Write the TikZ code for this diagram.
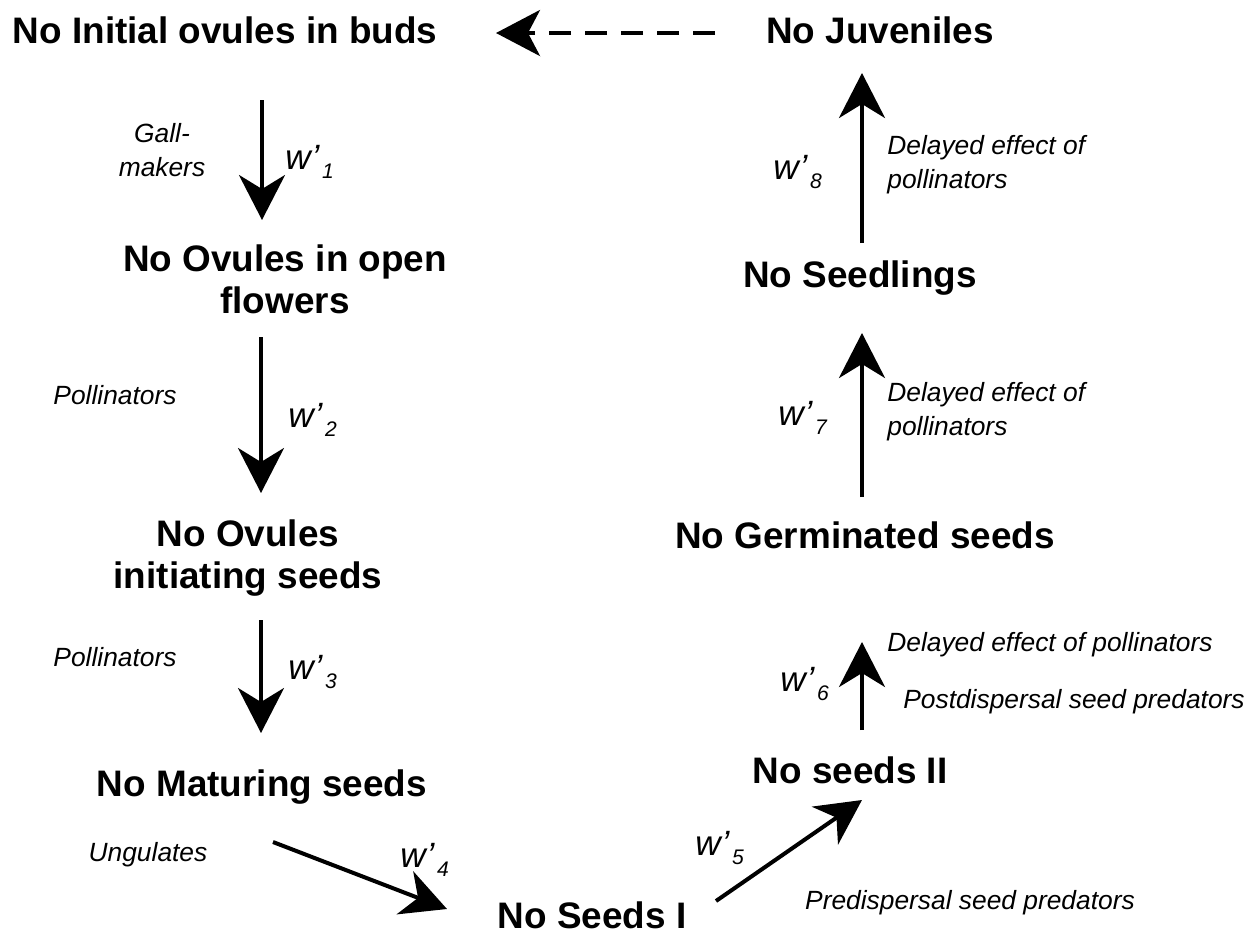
\documentclass[tikz,border=0pt]{standalone}
\usepackage{fontspec}
\setmainfont{Liberation Sans}
\usetikzlibrary{arrows.meta,calc}
\newcommand{\wsub}[1]{w\kern0.5pt’\kern1.5pt\raisebox{-5pt}{\fontsize{12}{12}\selectfont #1}}
\begin{document}
\begin{tikzpicture}[x=0.02cm,y=-0.02cm,
    stage/.style={font=\fontsize{21}{24}\selectfont\bfseries, align=center, inner sep=0pt},
    agent/.style={font=\fontsize{15}{19.5}\selectfont\itshape, inner sep=0pt},
    wlab/.style={font=\fontsize{20}{22}\selectfont\itshape, anchor=west, inner sep=0pt},
    flow/.style={line width=0.08cm, -{Stealth[length=0.9cm,width=0.92cm,inset=0.28cm]}},
    back/.style={line width=0.08cm, dash pattern=on 0.44cm off 0.28cm, -{Stealth[length=0.88cm,width=0.92cm,inset=0.24cm]}}]
  \useasboundingbox (0,0) rectangle (1249,938);

  % stages of the cycle
  \node[stage] (buds) at (225,30) {No Initial ovules in buds};
  \node[stage] (open) at (285,279) {No Ovules in open\\flowers};
  \node[stage] (init) at (248,558) {No Ovules\\initiating seeds};
  \node[stage] (mat) at (262,787) {No Maturing seeds};
  \node[stage] (s1) at (592,915) {No Seeds I};
  \node[stage] (s2) at (850,770) {No seeds II};
  \node[stage] (germ) at (865,535) {No Germinated seeds};
  \node[stage] (seedl) at (860,278) {No Seedlings};
  \node[stage] (juv) at (880,30) {No Juveniles};

  % transitions
  \draw[flow] ($(buds)+(37,70)$) -- ($(open)+(-23,-59)$);
  \draw[flow] ($(open)+(-24,58)$) -- ($(init)+(13,-65)$);
  \draw[flow] ($(init)+(13,62)$) -- ($(mat)+(-1,-54)$);
  \draw[flow] ($(mat)+(11,55)$) -- ($(s1)+(-145,-6)$);
  \draw[flow] ($(s1)+(124,-14)$) -- ($(s2)+(12,30)$);
  \draw[flow] ($(s2)+(12,-40)$) -- ($(germ)+(-3,107)$);
  \draw[flow] ($(germ)+(-3,-38)$) -- ($(seedl)+(2,55)$);
  \draw[flow] ($(seedl)+(2,-35)$) -- ($(juv)+(-18,43)$);
  \draw[back] ($(juv)+(-165,3)$) -- ($(buds)+(271,3)$);

  % weights
  \node[wlab] (w1) at (285,162) {\wsub{1}};
  \node[wlab] (w2) at (288,420) {\wsub{2}};
  \node[wlab] (w3) at (288,672) {\wsub{3}};
  \node[wlab] (w4) at (400,860) {\wsub{4}};
  \node[wlab] (w5) at (695,848) {\wsub{5}};
  \node[wlab] (w6) at (780,684) {\wsub{6}};
  \node[wlab] (w7) at (778,418) {\wsub{7}};
  \node[wlab] (w8) at (773,172) {\wsub{8}};

  % agents
  \node[agent, align=center] (gall) at (162,150) {Gall-\\makers};
  \node[agent] (poll1) at (115,395) {Pollinators};
  \node[agent] (poll2) at (115,657) {Pollinators};
  \node[agent] (ungul) at (148,855) {Ungulates};
  \node[agent] (predis) at (970,903) {Predispersal seed predators};
  \node[agent, anchor=west] (del6) at (887,645) {Delayed effect of pollinators};
  \node[agent, anchor=west] (postdis) at (903,702) {Postdispersal seed predators};
  \node[agent, anchor=west, align=left] (del7) at (887,412) {Delayed effect of\\pollinators};
  \node[agent, anchor=west, align=left] (del8) at (887,165) {Delayed effect of\\pollinators};
\end{tikzpicture}
\end{document}
